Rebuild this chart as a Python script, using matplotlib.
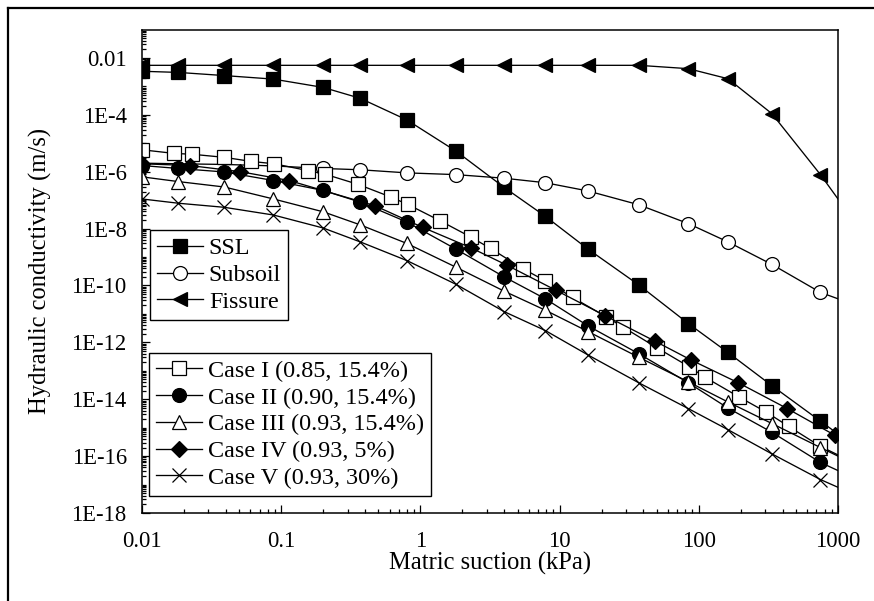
import numpy as np
import matplotlib
matplotlib.use('Agg')
import matplotlib.pyplot as plt
from matplotlib.lines import Line2D
from matplotlib.ticker import FixedLocator, FuncFormatter, NullFormatter

plt.rcParams['font.family'] = ['Liberation Serif', 'DejaVu Serif']

# matric suction grid shared by most curves (kPa); last point only closes the line at 1000
x_grid = [0.01, 0.0182, 0.039, 0.088, 0.2, 0.37, 0.8, 1.8, 4.0, 7.9, 16, 37, 84, 162, 335, 748, 1000]

ssl_k = [3.4e-3, 3.1e-3, 2.4e-3, 1.8e-3, 9.2e-4, 3.8e-4, 6.6e-5, 5.3e-6, 2.8e-7, 2.7e-8,
         1.9e-9, 1.05e-10, 4.6e-12, 4.4e-13, 3.0e-14, 1.7e-15, 6.0e-16]
subsoil_k = [2.0e-6, 1.9e-6, 1.8e-6, 1.6e-6, 1.3e-6, 1.17e-6, 9.1e-7, 7.9e-7, 5.9e-7, 4.1e-7,
             2.1e-7, 6.9e-8, 1.5e-8, 3.4e-9, 5.5e-10, 5.7e-11, 3.4e-11]
fissure_k = [5.5e-3, 5.5e-3, 5.5e-3, 5.5e-3, 5.5e-3, 5.5e-3, 5.5e-3, 5.5e-3, 5.5e-3, 5.5e-3,
             5.5e-3, 5.5e-3, 4.2e-3, 1.86e-3, 1.1e-4, 7.9e-7, 1.1e-7]

case1_x = [0.01, 0.017, 0.023, 0.039, 0.061, 0.089, 0.155, 0.206, 0.356, 0.61, 0.81, 1.38, 2.31,
           3.19, 5.45, 7.9, 12.4, 21.5, 28.4, 49.9, 85, 111, 193, 306, 443, 748, 1000]
case1_k = [5.9e-6, 4.4e-6, 4.1e-6, 3.2e-6, 2.3e-6, 1.9e-6, 1.1e-6, 8.2e-7, 3.6e-7, 1.3e-7, 7.1e-8,
           1.9e-8, 5.0e-9, 2.0e-9, 3.9e-10, 1.45e-10, 3.8e-11, 8.0e-12, 3.5e-12, 6.5e-13, 1.4e-13,
           5.9e-14, 1.23e-14, 3.5e-15, 1.1e-15, 2.2e-16, 1.1e-16]
case2_k = [1.65e-6, 1.3e-6, 9.8e-7, 4.9e-7, 2.2e-7, 8.5e-8, 1.7e-8, 1.9e-9, 2.0e-10, 3.4e-11,
           3.8e-12, 4.0e-13, 3.8e-14, 4.9e-15, 6.9e-16, 6.0e-17, 3.1e-17]
case3_k = [6.6e-7, 4.5e-7, 2.9e-7, 1.1e-7, 3.9e-8, 1.35e-8, 3.0e-9, 4.4e-10, 6.3e-11, 1.35e-11,
           2.4e-12, 3.0e-13, 4.1e-14, 8.0e-15, 1.4e-15, 2.0e-16, 1.0e-16]
case4_x = [0.01, 0.022, 0.051, 0.114, 0.47, 1.04, 2.31, 4.17, 9.4, 21.2, 48.4, 87.9, 192, 432, 950, 1000]
case4_k = [1.9e-6, 1.65e-6, 1.0e-6, 4.9e-7, 6.4e-8, 1.1e-8, 2.1e-9, 5.2e-10, 6.8e-11, 8.7e-12,
           1.1e-12, 2.4e-13, 3.8e-14, 4.7e-15, 5.4e-16, 4.6e-16]
case5_k = [1.1e-7, 7.8e-8, 5.6e-8, 3.0e-8, 1.05e-8, 3.4e-9, 7.5e-10, 1.1e-10, 1.2e-11, 2.6e-12,
           3.6e-13, 3.8e-14, 4.7e-15, 8.5e-16, 1.2e-16, 1.5e-17, 8.0e-18]

soil_labels = ['SSL', 'Subsoil', 'Fissure']
case_labels = ['Case I (0.85, 15.4%)', 'Case II (0.90, 15.4%)', 'Case III (0.93, 15.4%)',
               'Case IV (0.93, 5%)', 'Case V (0.93, 30%)']

fig = plt.figure(figsize=(8.74, 6.01), dpi=100)
ax = fig.add_axes([142 / 874, 1 - 513 / 601, 696 / 874, 483.5 / 601])

common = dict(color='black', lw=0.95, mec='black', mew=0.9)
h_ssl, = ax.plot(x_grid, ssl_k, marker='s', ms=9.5, mfc='black', markevery=slice(0, -1), **common)
h_sub, = ax.plot(x_grid, subsoil_k, marker='o', ms=10, mfc='white', markevery=slice(4, -1), **common)
h_fis, = ax.plot(x_grid, fissure_k, marker='<', ms=10.5, mfc='black', markevery=slice(0, -1), **common)

h1, = ax.plot(case1_x, case1_k, marker='s', ms=9.5, mfc='white', markevery=slice(0, -1), **common)
h2, = ax.plot(x_grid, case2_k, marker='o', ms=10, mfc='black', markevery=slice(0, -1), **common)
h3, = ax.plot(x_grid, case3_k, marker='^', ms=10.5, mfc='white', markevery=slice(0, -1), **common)
h4, = ax.plot(case4_x, case4_k, marker='D', ms=8.5, mfc='black', markevery=slice(0, -1), **common)
h5, = ax.plot(x_grid, case5_k, marker='x', ms=10.5, mfc='black', markevery=slice(0, -1), **common)

ax.set_xscale('log')
ax.set_yscale('log')
ax.set_xlim(0.01, 1000)
ax.set_ylim(1e-18, 1e-1)

# ticks: inward, labels every decade on x, every second decade on y
xmaj = [10.0 ** e for e in range(-2, 4)]
ax.xaxis.set_major_locator(FixedLocator(xmaj))
ax.xaxis.set_minor_locator(FixedLocator([m * 10.0 ** e for e in range(-2, 3) for m in range(2, 10)]))
ax.xaxis.set_major_formatter(FuncFormatter(lambda v, p: f'{v:g}'))
ax.xaxis.set_minor_formatter(NullFormatter())

ymaj = [10.0 ** e for e in range(-18, -1, 2)]
ymin = [m * 10.0 ** e for e in range(-18, -1) for m in range(1, 10) if not (m == 1 and e % 2 == 0)]
ax.yaxis.set_major_locator(FixedLocator(ymaj))
ax.yaxis.set_minor_locator(FixedLocator(ymin))

def ylab(v, p):
    e = int(round(np.log10(v)))
    return '0.01' if e == -2 else f'1E{e}'

ax.yaxis.set_major_formatter(FuncFormatter(ylab))
ax.yaxis.set_minor_formatter(NullFormatter())

ax.tick_params(which='both', direction='in', top=False, right=False, labelsize=16.3, width=0.9)
ax.tick_params(which='major', length=6)
ax.tick_params(which='minor', length=3)
ax.tick_params(axis='x', which='major', pad=13)
ax.tick_params(axis='y', which='major', pad=11)
for s in ax.spines.values():
    s.set_linewidth(1.1)

ax.set_xlabel('Matric suction (kPa)', fontsize=17.7, labelpad=0)
ax.set_ylabel('Hydraulic conductivity (m/s)', fontsize=17.7, labelpad=14)

leg_kw = dict(loc='upper left', fontsize=17.4, frameon=True, fancybox=False, edgecolor='black',
              framealpha=1, borderaxespad=0, handlelength=1.9, handletextpad=0.25,
              labelspacing=0.2, borderpad=0.3)
leg1 = ax.legend([h_ssl, h_sub, h_fis], soil_labels, bbox_to_anchor=(0.011, 0.585), **leg_kw)
leg1.get_frame().set_linewidth(1.0)
ax.add_artist(leg1)
leg2 = ax.legend([h1, h2, h3, h4, h5], case_labels, bbox_to_anchor=(0.010, 0.3315), **leg_kw)
leg2.get_frame().set_linewidth(1.0)

# partial outer frame (top and left edges) as in the source figure
fig.add_artist(Line2D([8 / 874, 1], [1 - 7.5 / 601, 1 - 7.5 / 601], color='black', lw=1.6))
fig.add_artist(Line2D([8 / 874, 8 / 874], [0, 1 - 7.5 / 601], color='black', lw=1.6))

fig.savefig('out.png', dpi=100)
